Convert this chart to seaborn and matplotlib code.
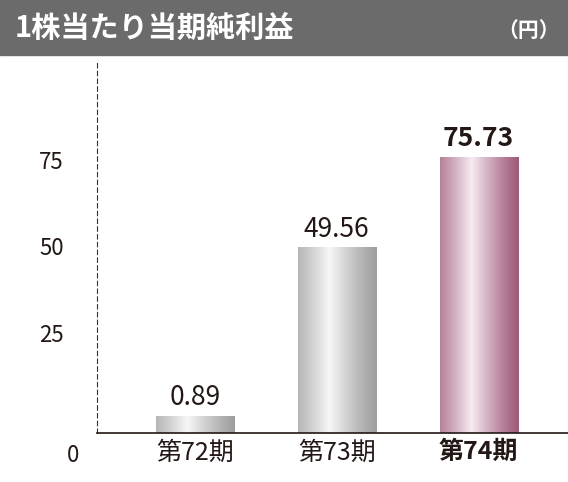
import matplotlib
matplotlib.use("Agg")
import matplotlib.pyplot as plt
import seaborn as sns
import numpy as np
import pandas as pd

categories = ["第72期", "第73期", "第74期"]
values = [0.89, 49.56, 75.73]
value_labels = ["0.89", "49.56", "75.73"]
yticks = [25, 50, 75]

sns.set_style("white")
plt.rcParams['font.family'] = ['Noto Sans CJK JP', 'DejaVu Sans']

fig = plt.figure(figsize=(5.68, 4.82), dpi=100)
fig.patches.append(plt.Rectangle((0, 1 - 55/482), 1, 55/482, transform=fig.transFigure,
                                 color="#6b6b6b", zorder=0))
fig.text(0.025, 1 - 28/482, "1株当たり当期純利益", color="white", fontsize=21,
         fontweight="bold", va="center")
fig.text(0.985, 1 - 30/482, "（円）", color="white", fontsize=15, fontweight="bold",
         va="center", ha="right")

YMIN = -4
ax = fig.add_axes([97/568, 49/482, 471/568, 373/482])
df = pd.DataFrame({"cat": categories, "val": values})
sns.barplot(data=df, x="cat", y="val", ax=ax, width=0.55, color="#cccccc", saturation=1)
ax.set_xlim(-0.69, 2.63)
ax.set_ylim(YMIN, 103.9)

grad_x = np.linspace(0, 1, 200)
def profile(c_edge, c_mid):
    t = np.clip(1 - np.abs(grad_x - 0.4) / 0.6, 0, 1) ** 1.2
    ce, cm = np.array(c_edge), np.array(c_mid)
    return (ce[None, :] * (1 - t[:, None]) + cm[None, :] * t[:, None])[None, :, :]

gray = profile([0.62, 0.62, 0.62], [0.97, 0.97, 0.97])
pink = profile([0.62, 0.36, 0.48], [0.97, 0.92, 0.95])
for i, p in enumerate(ax.patches):
    x0, w, h = p.get_x(), p.get_width(), p.get_height()
    p.set_visible(False)
    img = pink if i == 2 else gray
    ax.imshow(img, extent=[x0, x0 + w, YMIN, h], aspect="auto", zorder=2)
    ax.text(x0 + w / 2, h + 1.5, value_labels[i], ha="center", va="bottom",
            fontsize=19, fontweight="bold" if i == 2 else "normal", color="#231815")

ax.set_yticks(yticks)
ax.set_yticklabels([str(v) for v in yticks], fontsize=16, color="#231815")
ax.tick_params(axis="y", length=0, pad=24)
ax.tick_params(axis="x", length=0, pad=5)
ax.set_xticks(range(3))
ax.set_xticklabels(categories, fontsize=18, color="#231815")
ax.get_xticklabels()[2].set_fontweight("bold")
ax.set_xlabel("")
ax.set_ylabel("")
for s in ["top", "right"]:
    ax.spines[s].set_visible(False)
ax.spines["left"].set_linestyle((0, (4, 3)))
ax.spines["left"].set_linewidth(0.8)
ax.spines["left"].set_color("#333333")
ax.spines["bottom"].set_color("#231815")
ax.spines["bottom"].set_linewidth(1.2)
fig.text(73/568, 1 - 456/482, "0", fontsize=16, color="#231815", ha="center", va="center")

fig.savefig("out.png", dpi=100)
